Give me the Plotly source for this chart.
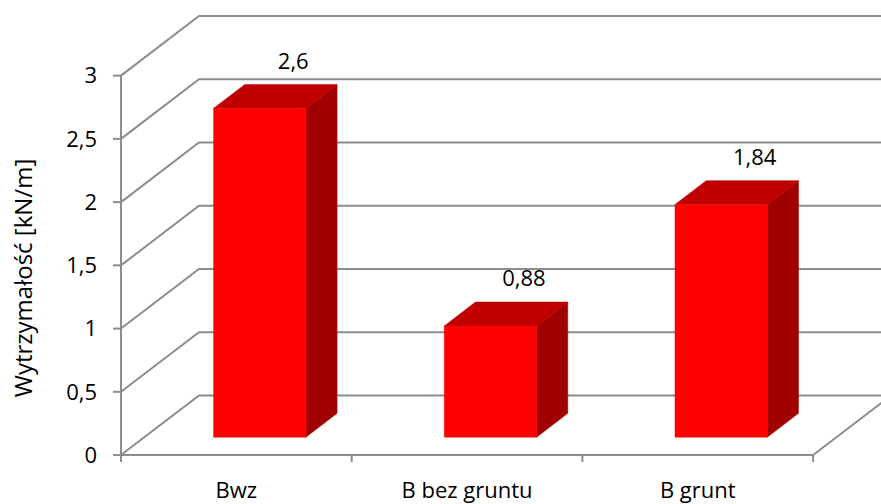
import plotly.graph_objects as go

# Data
categories = ["Bwz", "B bez gruntu", "B grunt"]
values = [2.6, 0.88, 1.84]
y_ticks = [0, 0.5, 1, 1.5, 2, 2.5, 3]
y_tick_labels = ["0", "0,5", "1", "1,5", "2", "2,5", "3"]
y_title = "Wytrzymałość [kN/m]"

# 3D look: depth direction of the chart box (in axis units) and bar geometry
DX, DY = 0.338, 0.471        # full depth offset of the back wall
BAR_W = 0.4                  # bar width as fraction of a category
D0, D1 = 0.3, 0.7            # bar front/back as fraction of the depth
X_MIN, X_MAX = -0.0433, 3.2943
Y_MIN, Y_MAX = -0.0786, 3.598

GRID = "#8c8c8c"
FRONT, TOP, SIDE = "#ff0000", "#c00000", "#a00000"
FONT = "Open Sans"

fig = go.Figure()

# side wall + back wall gridlines
gx, gy = [], []
for v in y_ticks:
    gx += [0, DX, X_MAX + 0.2, None]
    gy += [v, v + DY, v + DY, None]
# right floor edge
n = len(categories)
gx += [n, n + DX, None]
gy += [0, DY, None]
fig.add_trace(go.Scatter(x=gx, y=gy, mode="lines",
                         line=dict(color=GRID, width=2), hoverinfo="skip"))

# front axes with tick marks
ax, ay = [0, n, None, 0, 0, None], [0, 0, None, Y_MIN * 0.7, y_ticks[-1], None]
for i in range(n + 1):
    ax += [i, i, None]
    ay += [0, Y_MIN * 0.7, None]
for v in y_ticks:
    ax += [X_MIN * 0.8, 0, None]
    ay += [v, v, None]
fig.add_trace(go.Scatter(x=ax, y=ay, mode="lines",
                         line=dict(color=GRID, width=2), hoverinfo="skip"))

# bars: side face, top face, front face
for i, v in enumerate(values):
    xl = i + 0.5 - BAR_W / 2
    xr = i + 0.5 + BAR_W / 2
    fx0, fy0 = D0 * DX, D0 * DY
    fx1, fy1 = D1 * DX, D1 * DY
    side_x = [xr + fx0, xr + fx1, xr + fx1, xr + fx0, xr + fx0]
    side_y = [fy0, fy1, v + fy1, v + fy0, fy0]
    top_x = [xl + fx0, xr + fx0, xr + fx1, xl + fx1, xl + fx0]
    top_y = [v + fy0, v + fy0, v + fy1, v + fy1, v + fy0]
    front_x = [xl + fx0, xr + fx0, xr + fx0, xl + fx0, xl + fx0]
    front_y = [fy0, fy0, v + fy0, v + fy0, fy0]
    for px, py, col in ((side_x, side_y, SIDE), (top_x, top_y, TOP),
                        (front_x, front_y, FRONT)):
        fig.add_trace(go.Scatter(x=px, y=py, mode="lines", fill="toself",
                                 fillcolor=col, line=dict(color=col, width=0.5),
                                 hoverinfo="skip"))

# value labels above the bars
fig.add_trace(go.Scatter(
    x=[i + 0.5 + D1 * DX + 0.01 for i in range(n)],
    y=[v + D1 * DY + 0.17 for v in values],
    mode="text",
    text=[f"{v:g}".replace(".", ",") for v in values],
    textposition="middle center",
    textfont=dict(family=FONT, size=22, color="#000000"),
    hoverinfo="skip", cliponaxis=False))

fig.update_layout(
    width=881, height=504,
    margin=dict(l=111, r=0, t=0, b=36),
    paper_bgcolor="white", plot_bgcolor="white",
    showlegend=False, hovermode=False,
    font=dict(family=FONT, size=22, color="#000000"),
    xaxis=dict(range=[X_MIN, X_MAX], showgrid=False, zeroline=False,
               showline=False, tickmode="array",
               tickvals=[i + 0.5 for i in range(n)], ticktext=categories,
               ticks="", ticklabelstandoff=10, fixedrange=True),
    yaxis=dict(range=[Y_MIN, Y_MAX], showgrid=False, zeroline=False,
               showline=False, tickmode="array", tickvals=y_ticks,
               ticktext=y_tick_labels, ticks="", ticklabelstandoff=13,
               fixedrange=True),
    annotations=[dict(text=y_title, textangle=-90, showarrow=False,
                      xref="paper", yref="paper",
                      x=(22 - 111) / 770, xanchor="center",
                      y=(468 - 280) / 468, yanchor="middle",
                      font=dict(family=FONT, size=24, color="#000000"))],
)

fig.write_html("out.html")
